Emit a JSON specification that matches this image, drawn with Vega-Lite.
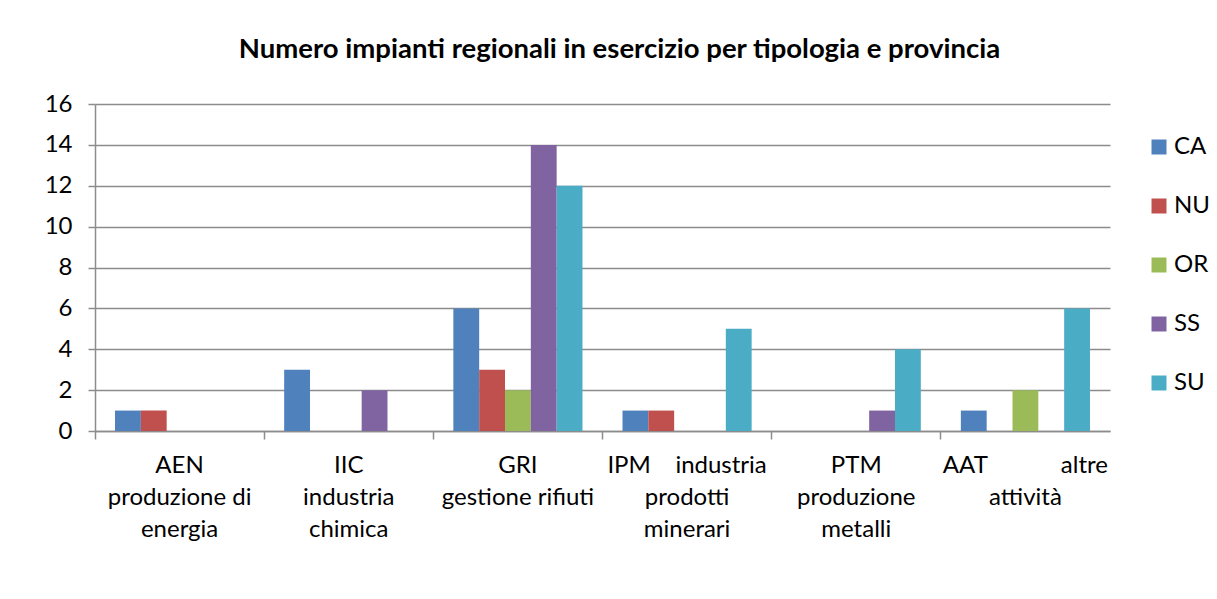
{
  "$schema": "https://vega.github.io/schema/vega-lite/v6.json",
  "width": 1015,
  "height": 327,
  "autosize": {"type": "none"},
  "padding": {"left": 95, "top": 104, "right": 107, "bottom": 168},
  "background": "white",
  "title": {
    "text": "Numero impianti regionali in esercizio per tipologia e provincia",
    "font": "Lato",
    "fontSize": 27.5,
    "fontWeight": "bold",
    "color": "#000000",
    "anchor": "middle",
    "dx": 17,
    "offset": 29
  },
  "data": {
    "values": [
      {"tipologia": "AEN|produzione di|energia", "provincia": "CA", "impianti": 1},
      {"tipologia": "AEN|produzione di|energia", "provincia": "NU", "impianti": 1},
      {"tipologia": "IIC|industria|chimica", "provincia": "CA", "impianti": 3},
      {"tipologia": "IIC|industria|chimica", "provincia": "SS", "impianti": 2},
      {"tipologia": "GRI|gestione rifiuti", "provincia": "CA", "impianti": 6},
      {"tipologia": "GRI|gestione rifiuti", "provincia": "NU", "impianti": 3},
      {"tipologia": "GRI|gestione rifiuti", "provincia": "OR", "impianti": 2},
      {"tipologia": "GRI|gestione rifiuti", "provincia": "SS", "impianti": 14},
      {"tipologia": "GRI|gestione rifiuti", "provincia": "SU", "impianti": 12},
      {"tipologia": "IPM\u00a0\u00a0\u00a0\u00a0industria|prodotti|minerari", "provincia": "CA", "impianti": 1},
      {"tipologia": "IPM\u00a0\u00a0\u00a0\u00a0industria|prodotti|minerari", "provincia": "NU", "impianti": 1},
      {"tipologia": "IPM\u00a0\u00a0\u00a0\u00a0industria|prodotti|minerari", "provincia": "SU", "impianti": 5},
      {"tipologia": "PTM|produzione|metalli", "provincia": "SS", "impianti": 1},
      {"tipologia": "PTM|produzione|metalli", "provincia": "SU", "impianti": 4},
      {"tipologia": "AAT\u00a0\u00a0\u00a0\u00a0\u00a0\u00a0\u00a0\u00a0\u00a0\u00a0\u00a0\u00a0altre|attività", "provincia": "CA", "impianti": 1},
      {"tipologia": "AAT\u00a0\u00a0\u00a0\u00a0\u00a0\u00a0\u00a0\u00a0\u00a0\u00a0\u00a0\u00a0altre|attività", "provincia": "OR", "impianti": 2},
      {"tipologia": "AAT\u00a0\u00a0\u00a0\u00a0\u00a0\u00a0\u00a0\u00a0\u00a0\u00a0\u00a0\u00a0altre|attività", "provincia": "SU", "impianti": 6}
    ]
  },
  "mark": {"type": "bar"},
  "encoding": {
    "x": {
      "field": "tipologia",
      "type": "nominal",
      "sort": null,
      "title": null,
      "scale": {"padding": 0},
      "axis": {
        "bandPosition": 0,
        "labelExpr": "split(datum.label, '|')",
        "labelAngle": 0,
        "labelFont": "Lato",
        "labelFontSize": 24,
        "labelColor": "#000000",
        "labelLineHeight": 32,
        "labelPadding": 14,
        "labelBaseline": "top",
        "labelAlign": "center",
        "tickSize": 8,
        "tickColor": "#8c8c8c",
        "tickWidth": 1.5,
        "domainColor": "#8c8c8c",
        "domainWidth": 1.5,
        "grid": false
      }
    },
    "xOffset": {
      "field": "provincia",
      "type": "nominal",
      "scale": {"domain": ["CA", "NU", "OR", "SS", "SU"], "paddingInner": 0, "paddingOuter": 0.775}
    },
    "y": {
      "field": "impianti",
      "type": "quantitative",
      "title": null,
      "scale": {"domain": [0, 16], "nice": false},
      "axis": {
        "values": [0, 2, 4, 6, 8, 10, 12, 14, 16],
        "labelFont": "Lato",
        "labelFontSize": 24,
        "labelColor": "#000000",
        "labelPadding": 16,
        "tickSize": 7,
        "tickColor": "#8c8c8c",
        "tickWidth": 1.5,
        "domainColor": "#8c8c8c",
        "domainWidth": 1.5,
        "gridColor": "#8c8c8c",
        "gridWidth": 1.5
      }
    },
    "color": {
      "field": "provincia",
      "type": "nominal",
      "scale": {
        "domain": ["CA", "NU", "OR", "SS", "SU"],
        "range": ["#4F81BD", "#C0504D", "#9BBB59", "#8064A2", "#4BACC6"]
      },
      "legend": {
        "title": null,
        "orient": "none",
        "legendX": 1052,
        "legendY": 31,
        "symbolType": "square",
        "symbolSize": 225,
        "symbolStrokeWidth": 0,
        "labelFont": "Lato",
        "labelFontSize": 24,
        "labelColor": "#000000",
        "labelOffset": 3,
        "rowPadding": 35
      }
    }
  },
  "config": {
    "view": {"stroke": null}
  }
}
